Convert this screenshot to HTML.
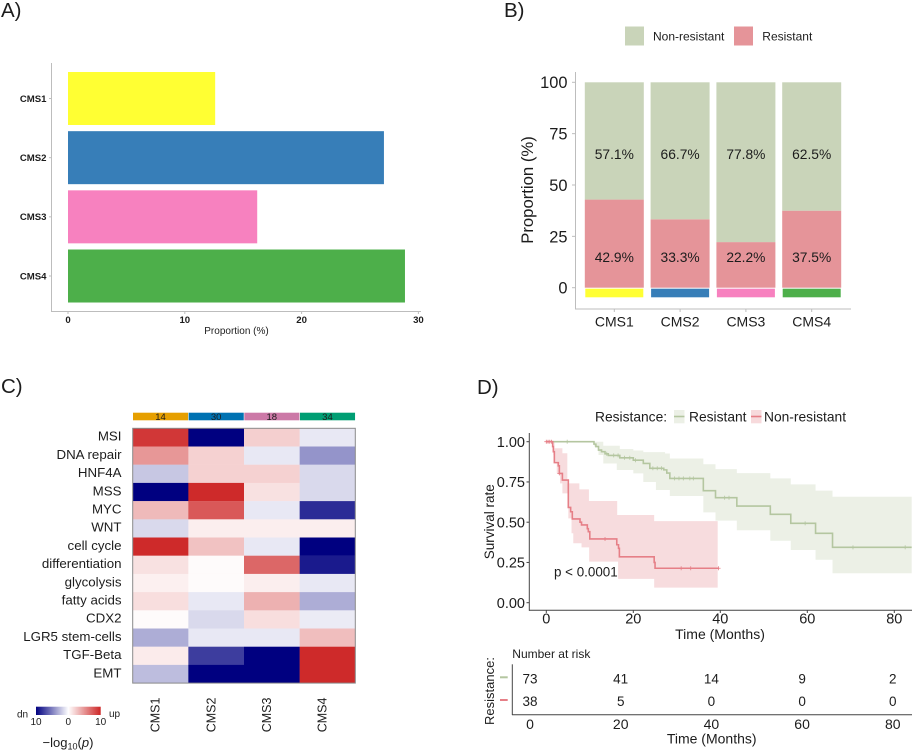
<!DOCTYPE html>
<html lang="en">
<head>
<meta charset="utf-8">
<title>CMS resistance figure</title>
<style>
html,body{margin:0;padding:0;background:#fff;}
svg{display:block;font-family:"Liberation Sans",Arial,sans-serif;}
text{fill:#1c1c1c;}
</style>
</head>
<body>
<svg id="fig" xmlns="http://www.w3.org/2000/svg" width="913" height="753" viewBox="0 0 913 753">
<defs>
<linearGradient id="heat-grad" x1="0" x2="1" y1="0" y2="0">
<stop offset="0" stop-color="#000080"/>
<stop offset="0.5" stop-color="#ffffff"/>
<stop offset="1" stop-color="#cd2626"/>
</linearGradient>
</defs>
<rect x="0" y="0" width="913" height="753" fill="#fff"/>

<text x="1" y="17" font-size="20.5">A)</text>
<text x="504" y="17" font-size="20.5">B)</text>
<text x="1" y="393" font-size="20.5">C)</text>
<text x="477" y="394" font-size="20.5">D)</text>

<g id="panel-a">
<line x1="51.5" x2="51.5" y1="63" y2="312" stroke="#bdbdbd" stroke-width="1"/>
<line x1="51" x2="421" y1="311.5" y2="311.5" stroke="#bdbdbd" stroke-width="1"/>
<text x="236.5" y="334" font-size="10" text-anchor="middle" fill="#333">Proportion (%)</text>
</g>

<g id="panel-b">
<rect x="625" y="26.5" width="19" height="19" fill="#c9d4b9"/>
<text x="653" y="40.5" font-size="12">Non-resistant</text>
<rect x="734" y="26.5" width="19" height="19" fill="#e59499"/>
<text x="762.3" y="40.5" font-size="12">Resistant</text>
<line x1="575.5" x2="575.5" y1="72" y2="309.5" stroke="#bdbdbd" stroke-width="1"/>
<line x1="575" x2="851" y1="309" y2="309" stroke="#bdbdbd" stroke-width="1"/>
<text transform="translate(533,190) rotate(-90)" font-size="16.7" text-anchor="middle">Proportion (%)</text>
</g>

<g id="panel-c">
<rect x="36" y="706.7" width="64.7" height="8.3" fill="url(#heat-grad)"/>
<text x="17" y="717.5" font-size="10">dn</text>
<text x="109" y="717" font-size="10">up</text>
<text x="36" y="725.2" font-size="10" text-anchor="middle">10</text>
<text x="68.3" y="725.2" font-size="10" text-anchor="middle">0</text>
<text x="100.7" y="725.2" font-size="10" text-anchor="middle">10</text>
<text x="68" y="747" font-size="13" text-anchor="middle">−log<tspan font-size="9" dy="2.5">10</tspan><tspan dy="-2.5">(</tspan><tspan font-style="italic">p</tspan>)</text>
</g>

<g id="panel-d">
<text x="595" y="421.3" font-size="13.8">Resistance:</text>
<rect x="674" y="410" width="10.5" height="13.3" fill="#ecf0e6"/>
<line x1="674" x2="684.5" y1="416.5" y2="416.5" stroke="#b4c6a0" stroke-width="1.6"/>
<text x="689" y="421.3" font-size="13.8">Resistant</text>
<rect x="751" y="410" width="10.5" height="13.3" fill="#f7dadc"/>
<line x1="751" x2="761.5" y1="416.5" y2="416.5" stroke="#e67f87" stroke-width="1.6"/>
<text x="764" y="421.3" font-size="13.8">Non-resistant</text>
<g id="km"></g>
<line x1="529.3" x2="529.3" y1="433" y2="610.8" stroke="#444" stroke-width="1"/>
<line x1="529" x2="912" y1="610.3" y2="610.3" stroke="#444" stroke-width="1"/>
<text transform="translate(494,521.7) rotate(-90)" font-size="13.5" text-anchor="middle">Survival rate</text>
<text x="720" y="639" font-size="14" text-anchor="middle">Time (Months)</text>
<text x="554" y="576.3" font-size="13.4">p &lt; 0.0001</text>
<text x="512.3" y="658.2" font-size="12">Number at risk</text>
<line x1="512.3" x2="512.3" y1="664.3" y2="715" stroke="#444" stroke-width="1"/>
<line x1="512" x2="912" y1="714.7" y2="714.7" stroke="#444" stroke-width="1"/>
<text transform="translate(494,691) rotate(-90)" font-size="13" text-anchor="middle">Resistance:</text>
<line x1="500" x2="507.7" y1="677.3" y2="677.3" stroke="#b4c6a0" stroke-width="2"/>
<line x1="500" x2="507.7" y1="700" y2="700" stroke="#e67f87" stroke-width="2"/>
<text x="711.7" y="743.5" font-size="14" text-anchor="middle">Time (Months)</text>
</g>
</svg>
<script>
// Panel A data
const aCategories = ['CMS1', 'CMS2', 'CMS3', 'CMS4'];
const aValues = [12.6, 27.05, 16.2, 28.85];
const aColors = ['#ffff33', '#377eb8', '#f781bf', '#4daf4a'];
const aTicks = [0, 10, 20, 30];

// Panel B data
const bCategories = ['CMS1', 'CMS2', 'CMS3', 'CMS4'];
const bResistant = [42.9, 33.3, 22.2, 37.5];
const bNonResistant = [57.1, 66.7, 77.8, 62.5];
const bTicks = [0, 25, 50, 75, 100];

// Panel C data
const cRows = ['MSI', 'DNA repair', 'HNF4A', 'MSS', 'MYC', 'WNT', 'cell cycle', 'differentiation', 'glycolysis', 'fatty acids', 'CDX2', 'LGR5 stem-cells', 'TGF-Beta', 'EMT'];
const cCols = ['CMS1', 'CMS2', 'CMS3', 'CMS4'];
const cCounts = [14, 30, 18, 34];
const cCountColors = ['#e69f00', '#0072b2', '#cc79a7', '#009e73'];
const cCMS1 = [9.2, 4.8, -2.2, -10, 3.2, -1.5, 9.8, 1.4, 0.7, 1.5, 0.2, -3.2, 0.9, -2.6];
const cCMS2 = [-10, 2.1, 2.1, 9.8, 7.7, 0.8, 2.8, 0.2, 0.2, -0.9, -1.5, -0.9, -7.6, -10];
const cCMS3 = [2.2, -0.9, 2.1, 1.4, -0.9, 0.8, -0.9, 7, 0.8, 3.6, 1.5, -0.9, -10, -10];
const cCMS4 = [-0.9, -4.2, -1.5, -1.5, -8.3, 0.8, -10, -9, -0.9, -3.2, -0.8, 3, 9.8, 9.8];

// Panel D data: step curves (months, survival probability)
const resTimes = [0, 10.96, 11.4, 12, 12.7, 13.5, 14.25, 16.9, 20, 22.3, 23.8, 27, 27.7, 28.4, 36.1, 38.9, 43.8, 51.5, 56.2, 61.9, 65.8, 84];
const resSurv = [1, 0.985, 0.97, 0.948, 0.938, 0.925, 0.915, 0.9, 0.885, 0.865, 0.835, 0.825, 0.805, 0.772, 0.696, 0.652, 0.6, 0.549, 0.493, 0.431, 0.344, 0.344];
const resUpperTimes = [0, 13.1, 16.9, 20, 22.3, 27.3, 28.4, 36.1, 38.9, 43.8, 51.5, 56.2, 61.9, 65.8, 84];
const resUpper = [1, 0.975, 0.955, 0.945, 0.935, 0.927, 0.896, 0.86, 0.83, 0.805, 0.772, 0.735, 0.696, 0.658, 0.658];
const resLowerTimes = [0, 10.96, 12, 13.1, 16.2, 20, 22.3, 25.2, 28.4, 36.1, 38.9, 43.8, 51.5, 56.2, 61.9, 65.8, 84];
const resLower = [1, 0.97, 0.917, 0.865, 0.824, 0.803, 0.75, 0.7, 0.663, 0.561, 0.51, 0.45, 0.385, 0.327, 0.267, 0.183, 0.183];
const resCensor = [4.8, 13.9, 15.5, 16.5, 18, 19.2, 20.5, 24.5, 25.5, 26.5, 29.5, 30.5, 31.5, 33, 33.8, 41, 42, 59.5, 70.5, 82.5];

const nonTimes = [0, 1.46, 1.62, 1.85, 2.76, 3, 3.7, 4.83, 5.06, 5.6, 5.98, 7.75, 8.1, 9.43, 9.66, 10, 16.2, 16.6, 16.8, 24.8, 25, 39.6];
const nonSurv = [1, 0.97, 0.938, 0.87, 0.85, 0.803, 0.762, 0.762, 0.592, 0.565, 0.52, 0.5, 0.483, 0.46, 0.441, 0.396, 0.36, 0.338, 0.285, 0.25, 0.214, 0.214];
const nonUpperTimes = [0, 1.9, 3.7, 4.83, 7.6, 9.8, 16.3, 24.8, 39.4];
const nonUpper = [1, 0.959, 0.928, 0.741, 0.704, 0.632, 0.545, 0.507, 0.507];
const nonLowerTimes = [0, 1.62, 2, 2.4, 3.15, 3.7, 5.06, 5.8, 6.2, 8.1, 9.85, 16.5, 24.8, 39.4];
const nonLower = [1, 0.917, 0.866, 0.803, 0.741, 0.679, 0.524, 0.431, 0.369, 0.344, 0.255, 0.148, 0.094, 0.094];
const nonCensor = [0, 0.4, 0.8, 1.2, 3, 13.5, 31, 33.2, 39.6];

const dXTicks = [0, 20, 40, 60, 80];
const dYTicks = [0, 0.25, 0.5, 0.75, 1];

// Risk table data
const riskTimes = [0, 20, 40, 60, 80];
const riskResistant = [73, 41, 14, 9, 2];
const riskNonResistant = [38, 5, 0, 0, 0];

const NS = 'http://www.w3.org/2000/svg';
function make(parent, tag, attrs, txt) {
  const e = document.createElementNS(NS, tag);
  for (const k in attrs) e.setAttribute(k, attrs[k]);
  if (txt !== undefined) e.textContent = txt;
  parent.appendChild(e);
  return e;
}
const panelA = document.getElementById('panel-a');
const panelB = document.getElementById('panel-b');
const panelC = document.getElementById('panel-c');
const panelD = document.getElementById('panel-d');
const km = document.getElementById('km');

// ----- Panel A -----
const axX = v => 68 + v * 11.68;
const axY = i => 98.5 + i * 59.17;
aCategories.forEach((c, i) => {
  const bar = make(panelA, 'rect', {x: axX(0), y: axY(i) - 26.5, width: axX(aValues[i]) - axX(0), height: 53, fill: aColors[i]});
  
  
  const tick = make(panelA, 'line', {x1: 49, x2: 51.5, y1: axY(i), y2: axY(i), stroke: '#bdbdbd'});
  
  
  const lab = make(panelA, 'text', {x: 46.5, y: axY(i) + 3.4, 'font-size': 9.6, 'font-weight': 'bold', 'text-anchor': 'end'}, c);
  
  
});
aTicks.forEach(t => {
  const tick = make(panelA, 'line', {x1: axX(t), x2: axX(t), y1: 311.5, y2: 314, stroke: '#bdbdbd'});
  
  
  const lab = make(panelA, 'text', {x: axX(t), y: 323, 'font-size': 9.6, 'font-weight': 'bold', 'text-anchor': 'middle'}, t);
  
  
});

// ----- Panel B -----
const bxX = i => 614.3 + i * 65.8;
const byY = v => 287.7 - v * 2.054;
bCategories.forEach((c, i) => {
  const r = make(panelB, 'rect', {x: bxX(i) - 29.5, y: byY(bResistant[i]), width: 59, height: byY(0) - byY(bResistant[i]), fill: '#e59499'});
  
  
  const n = make(panelB, 'rect', {x: bxX(i) - 29.5, y: byY(bResistant[i] + bNonResistant[i]), width: 59, height: byY(bResistant[i]) - byY(bResistant[i] + bNonResistant[i]), fill: '#c9d4b9'});
  
  
  const strip = make(panelB, 'rect', {x: bxX(i) - 29, y: 288.7, width: 58, height: 8.6, fill: aColors[i]});
  
  
  const l1 = make(panelB, 'text', {x: bxX(i), y: byY(65) + 5, 'font-size': 13.8, 'text-anchor': 'middle'}, bNonResistant[i].toFixed(1) + '%');
  
  
  const l2 = make(panelB, 'text', {x: bxX(i), y: byY(15) + 5, 'font-size': 13.8, 'text-anchor': 'middle'}, bResistant[i].toFixed(1) + '%');
  
  
  const tick = make(panelB, 'line', {x1: bxX(i), x2: bxX(i), y1: 309, y2: 312, stroke: '#bdbdbd'});
  
  
  const lab = make(panelB, 'text', {x: bxX(i), y: 326.5, 'font-size': 14, 'text-anchor': 'middle'}, c);
  
  
});
bTicks.forEach(t => {
  const tick = make(panelB, 'line', {x1: 572, x2: 575.5, y1: byY(t), y2: byY(t), stroke: '#bdbdbd'});
  
  
  const lab = make(panelB, 'text', {x: 567.5, y: byY(t) + 5.9, 'font-size': 16.4, 'text-anchor': 'end'}, t);
  
  
});

// ----- Panel C -----
const cxX = i => 132.7 + i * 55.65;
const cyY = i => 428.3 + i * 18.2;
const cMatrix = [cCMS1, cCMS2, cCMS3, cCMS4];
function heatColor(v) {
  const t = Math.min(1, Math.abs(v) / 10);
  const hi = v >= 0 ? [205, 38, 38] : [0, 0, 128];
  const mix = hi.map(h => Math.round(255 + (h - 255) * t));
  return 'rgb(' + mix.join(',') + ')';
}
cCols.forEach((c, j) => {
  const top = make(panelC, 'rect', {x: cxX(j) + 0.3, y: 412.7, width: 55.1, height: 7.6, fill: cCountColors[j]});
  
  
  const cnt = make(panelC, 'text', {x: cxX(j) + 27.8, y: 420, 'font-size': 9.5, 'text-anchor': 'middle'}, cCounts[j]);
  
  
  cRows.forEach((r, i) => {
    const cell = make(panelC, 'rect', {x: cxX(j), y: cyY(i), width: 55.9, height: 18.4, fill: heatColor(cMatrix[j][i])});
    
    
  });
  const px = cxX(j) + 27;
  const lab = make(panelC, 'text', {transform: 'translate(' + px + ',732.3) rotate(-90)', 'font-size': 12.5}, c);
  
  
});
cRows.forEach((r, i) => {
  const lab = make(panelC, 'text', {x: 121.5, y: cyY(i) + 12.4, 'font-size': 13.3, 'text-anchor': 'end'}, r);
  
  
});
const frame = make(panelC, 'rect', {x: cxX(0), y: cyY(0), width: cxX(4) - cxX(0), height: cyY(14) - cyY(0), fill: 'none', stroke: '#8a8a8a', 'stroke-width': 1});



// ----- Panel D -----
const dX = t => 546.3 + t * 4.35;
const dY = s => 602.7 - s * 161;
function stepPoints(ts, ss) {
  const pts = [];
  ts.forEach((t, i) => {
    if (i > 0) pts.push([dX(t), dY(ss[i - 1])]);
    pts.push([dX(t), dY(ss[i])]);
  });
  return pts;
}
function toD(pts) {
  return 'M' + pts.map(p => p[0].toFixed(2) + ' ' + p[1].toFixed(2)).join('L');
}
function stepAt(ts, ss, t) {
  let v = ss[0];
  ts.forEach((x, i) => { if (x <= t) v = ss[i]; });
  return v;
}
const ciRes = make(km, 'path', {d: toD(stepPoints(resUpperTimes, resUpper).concat(stepPoints(resLowerTimes, resLower).reverse())) + 'Z', fill: '#ecf0e6'});


const ciNon = make(km, 'path', {d: toD(stepPoints(nonUpperTimes, nonUpper).concat(stepPoints(nonLowerTimes, nonLower).reverse())) + 'Z', fill: '#f7dadc', 'fill-opacity': 0.95});


const lineRes = make(km, 'path', {d: toD(stepPoints(resTimes, resSurv)), fill: 'none', stroke: '#b4c6a0', 'stroke-width': 1.6});


const lineNon = make(km, 'path', {d: toD(stepPoints(nonTimes, nonSurv)), fill: 'none', stroke: '#e67f87', 'stroke-width': 1.6});


resCensor.forEach(t => {
  const y = dY(stepAt(resTimes, resSurv, t));
  const m = make(km, 'path', {d: 'M' + dX(t) + ' ' + (y - 2) + 'V' + (y + 2), stroke: '#b4c6a0', 'stroke-width': 0.8});
  
  
});
nonCensor.forEach(t => {
  const x = dX(t);
  const y = dY(stepAt(nonTimes, nonSurv, t));
  const m = make(km, 'path', {d: 'M' + x + ' ' + (y - 2) + 'V' + (y + 2) + 'M' + (x - 2) + ' ' + y + 'H' + (x + 2), stroke: '#e67f87', 'stroke-width': 0.8});
  
  
});
dXTicks.forEach(t => {
  const tick = make(panelD, 'line', {x1: dX(t), x2: dX(t), y1: 610.3, y2: 613, stroke: '#444'});
  
  
  const lab = make(panelD, 'text', {x: dX(t), y: 623.7, 'font-size': 14.5, 'text-anchor': 'middle'}, t);
  
  
});
dYTicks.forEach(s => {
  const tick = make(panelD, 'line', {x1: 526.5, x2: 529.3, y1: dY(s), y2: dY(s), stroke: '#444'});
  
  
  const lab = make(panelD, 'text', {x: 525, y: dY(s) + 5.2, 'font-size': 14.5, 'text-anchor': 'end'}, s.toFixed(2));
  
  
});

// ----- Risk table -----
const rX = t => 530 + t * 4.535;
riskTimes.forEach((t, i) => {
  const a = make(panelD, 'text', {x: rX(t), y: 683.5, 'font-size': 13.5, 'text-anchor': 'middle'}, riskResistant[i]);
  
  
  const b = make(panelD, 'text', {x: rX(t), y: 706, 'font-size': 13.5, 'text-anchor': 'middle'}, riskNonResistant[i]);
  
  
  const lab = make(panelD, 'text', {x: rX(t), y: 729, 'font-size': 14, 'text-anchor': 'middle'}, t);
  
  
});
</script>
</body>
</html>
